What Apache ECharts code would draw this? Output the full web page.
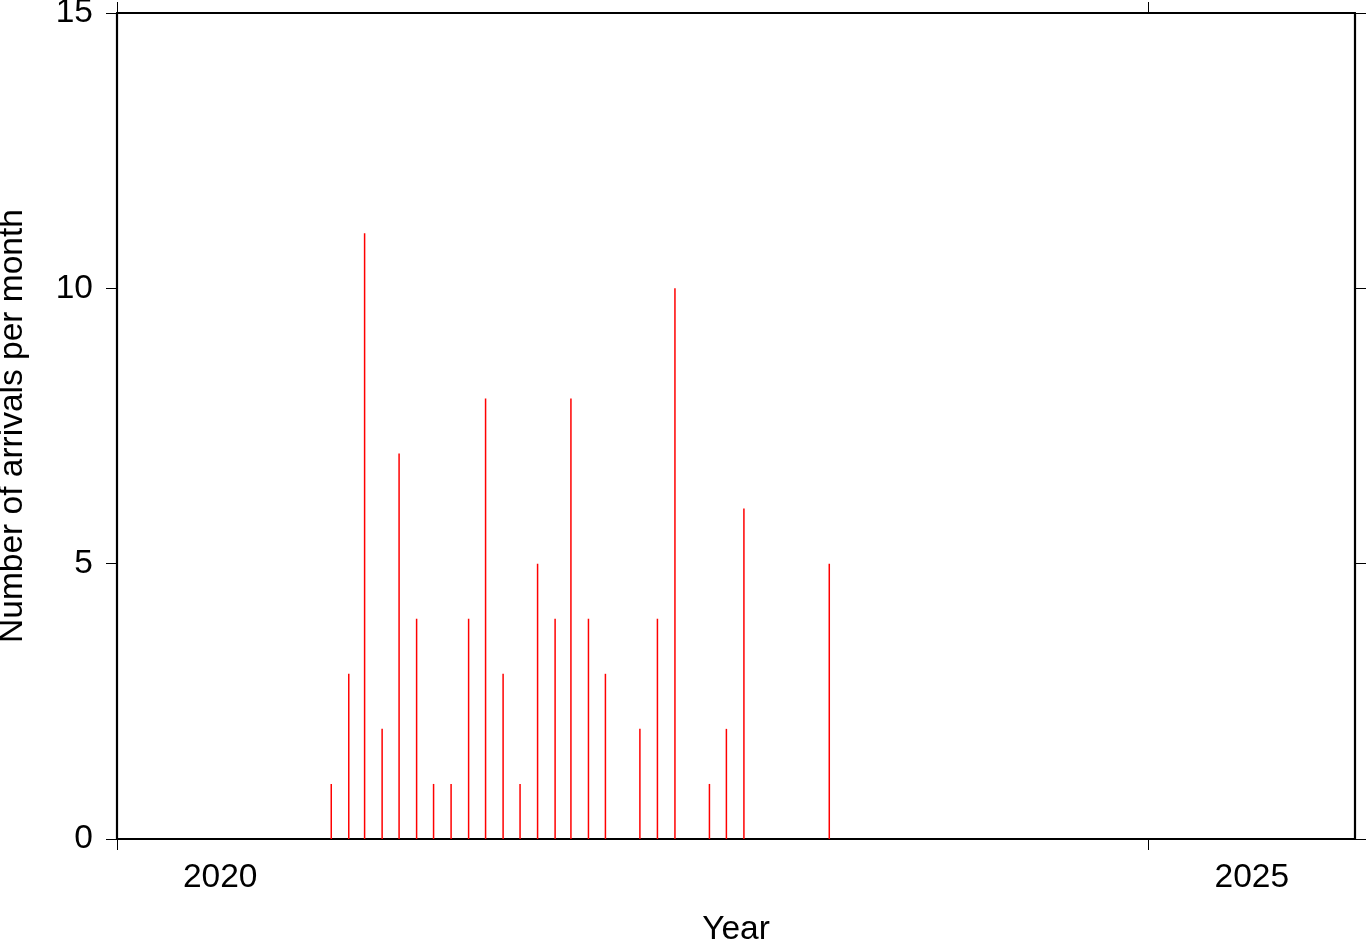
<!DOCTYPE html>
<html><head><meta charset="utf-8">
<script src="https://cdn.jsdelivr.net/npm/echarts@6/dist/echarts.min.js"></script>
<style>html,body{margin:0;padding:0;background:#fff}#c{width:1369px;height:942px}</style>
</head><body><div id="c"></div>
<script>
const months = ["2021-01-15","2021-02-15","2021-03-15","2021-04-15","2021-05-15","2021-06-15","2021-07-15","2021-08-15","2021-09-15","2021-10-15","2021-11-15","2021-12-15","2022-01-15","2022-02-15","2022-03-15","2022-04-15","2022-05-15","2022-07-15","2022-08-15","2022-09-15","2022-11-15","2022-12-15","2023-01-15","2023-06-15"];
const counts = [1,3,11,2,7,4,1,1,4,8,3,1,5,4,8,4,3,2,4,10,1,2,6,5];
const xTicks = [2020, 2025];
const yTicks = [0, 5, 10, 15];

function decYear(s){
  const d = new Date(s + "T00:00:00Z");
  const y = d.getUTCFullYear();
  const start = Date.UTC(y,0,1), end = Date.UTC(y+1,0,1);
  return y + (d.getTime()-start)/(end-start);
}
const data = months.map((m,i)=>[decYear(m), counts[i]]);
const F = "'Liberation Sans', Arial, Helvetica, sans-serif";
const fs = 33.5;
const line = {show:true, onZero:false, lineStyle:{color:'#000', width:2.2}};
const tick = {show:true, inside:false, length:11, lineStyle:{color:'#000', width:1}};

const chart = echarts.init(document.getElementById('c'), null, {renderer:'canvas'});
chart.setOption({
  animation:false,
  grid:{left:117, right:14, top:13, bottom:103, containLabel:false, outerBoundsMode:'none'},
  xAxis:[{
    type:'value', position:'bottom', min:2020, max:2026,
    axisLine:line, axisTick:Object.assign({customValues:xTicks}, tick),
    splitLine:{show:false},
    axisLabel:{customValues:xTicks.map(v=>v+0.5), formatter:v=>String(Math.floor(v)),
      color:'#000', fontFamily:F, fontSize:fs, margin:22},
    name:'Year', nameLocation:'middle', nameGap:74,
    nameTextStyle:{color:'#000', fontFamily:F, fontSize:fs}
  },{
    type:'value', position:'top', min:2020, max:2026,
    axisLine:line, axisTick:Object.assign({customValues:xTicks}, tick),
    splitLine:{show:false}, axisLabel:{show:false}
  }],
  yAxis:[{
    type:'value', position:'left', min:0, max:15, interval:5,
    axisLine:line, axisTick:tick, splitLine:{show:false},
    axisLabel:{color:'#000', fontFamily:F, fontSize:fs, margin:24,
      customValues:yTicks},
    name:'Number of arrivals per month', nameLocation:'middle', nameGap:87,
    nameTextStyle:{color:'#000', fontFamily:F, fontSize:fs}
  },{
    type:'value', position:'right', min:0, max:15, interval:5,
    axisLine:line, axisTick:tick, splitLine:{show:false}, axisLabel:{show:false}
  }],
  series:[{
    type:'bar', xAxisIndex:0, yAxisIndex:0, data:data, barWidth:1.5,
    itemStyle:{color:'#ff0000'}
  }]
});
</script></body></html>
